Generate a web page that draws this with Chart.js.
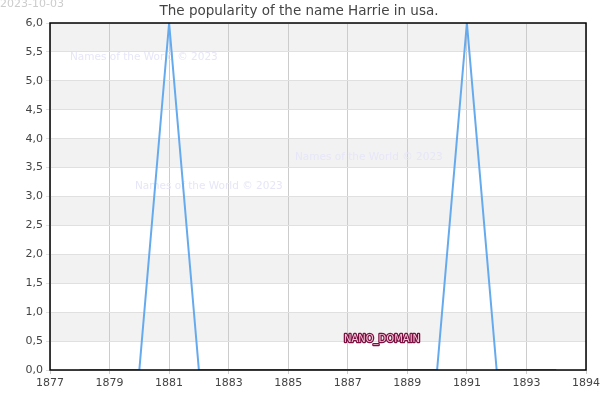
<!DOCTYPE html>
<html>
<head>
<meta charset="utf-8">
<script src="https://cdn.jsdelivr.net/npm/chart.js@4"></script>
<style>
  html, body { margin: 0; padding: 0; background: #fff; }
  #wrap { width: 600px; height: 400px; }
</style>
</head>
<body>
<div id="wrap"><canvas id="popChart"></canvas></div>
<script>
const years = [1878, 1879, 1880, 1881, 1882, 1883, 1884, 1885, 1886, 1887, 1888, 1889, 1890, 1891, 1892, 1893, 1894];
const counts = [0, 0, 0, 6, 0, 0, 0, 0, 0, 0, 0, 0, 0, 6, 0, 0, 0];
const xTicks = [1877, 1879, 1881, 1883, 1885, 1887, 1889, 1891, 1893, 1895];
const xTickLabels = ['1877', '1879', '1881', '1883', '1885', '1887', '1889', '1891', '1893', '1894'];
const titleText = 'The popularity of the name Harrie in usa.';
const dateText = '2023-10-03';

// bands, frame, title and watermarks
const decor = {
    id: 'decor',
    beforeDatasetsDraw(chart) {
        const c = chart.ctx;
        c.save();
        c.font = '10.5px "DejaVu Sans"';
        c.fillStyle = '#e6e6f8';
        c.textBaseline = 'middle';
        c.fillText('Names of the World \u00a9 2023', 70, 57);
        c.fillText('Names of the World \u00a9 2023', 295, 157);
        c.fillText('Names of the World \u00a9 2023', 135, 186);
        c.restore();
    },
    beforeDraw(chart) {
        const c = chart.ctx, a = chart.chartArea, y = chart.scales.y;
        c.save();
        c.fillStyle = '#f2f2f2';
        for (let v = 0.5; v < 6; v += 1) {
            const top = y.getPixelForValue(v + 0.5), bot = y.getPixelForValue(v);
            c.fillRect(a.left, top, a.right - a.left, bot - top);
        }
        c.restore();
    },
    afterDraw(chart) {
        const c = chart.ctx, a = chart.chartArea;
        c.save();
        c.strokeStyle = '#000';
        c.lineWidth = 1.5;
        c.strokeRect(a.left, a.top, a.right - a.left, a.bottom - a.top);
        c.font = '13.5px "DejaVu Sans"';
        c.fillStyle = '#444';
        c.textAlign = 'center';
        c.textBaseline = 'middle';
        c.fillText(titleText, 299, 11);
        c.font = '11px "DejaVu Sans"';
        c.fillStyle = '#cccccc';
        c.textAlign = 'left';
        c.fillText(dateText, 0, 4);
        c.font = '10px "DejaVu Sans"';
        c.lineWidth = 2.5;
        c.strokeStyle = '#7a1040';
        c.lineJoin = 'round';
        c.textAlign = 'center';
        c.strokeText('NANO_DOMAIN', 382, 339);
        c.fillStyle = '#f4c6d8';
        c.fillText('NANO_DOMAIN', 382, 339);
        c.restore();
    }
};

const ctx = document.getElementById('popChart').getContext('2d');
const popChart = new Chart(ctx, {
    type: 'line',
    data: {
        labels: years,
        datasets: [{
            data: years.map((yr, i) => ({ x: yr, y: counts[i] })),
            borderColor: '#66aaee',
            borderWidth: 2,
            pointRadius: 0,
            fill: false,
            tension: 0
        }]
    },
    options: {
        responsive: true,
        maintainAspectRatio: false,
        animation: false,
        layout: { padding: { top: 23, right: 14, left: 0, bottom: 0 } },
        plugins: { legend: { display: false }, title: { display: false }, tooltip: { enabled: false } },
        scales: {
            x: {
                type: 'linear',
                min: xTicks[0],
                max: xTicks[xTicks.length - 1],
                afterBuildTicks: s => { s.ticks = xTicks.map(v => ({ value: v })); },
                afterFit: s => { s.height = 30; s.paddingRight = 0; s.paddingLeft = 0; },
                grid: { color: '#cccccc', tickLength: 4 },
                border: { display: false },
                ticks: {
                    color: '#444',
                    font: { family: 'DejaVu Sans', size: 11 },
                    maxRotation: 0,
                    autoSkip: false,
                    callback: (v, i) => xTickLabels[i]
                }
            },
            y: {
                min: 0,
                max: 6,
                afterFit: s => { s.width = 50; },
                grid: { color: '#e0e0e0', tickLength: 4 },
                border: { display: false },
                ticks: {
                    stepSize: 0.5,
                    color: '#444',
                    font: { family: 'DejaVu Sans', size: 11 },
                    callback: v => v.toFixed(1).replace('.', ',')
                }
            }
        }
    },
    plugins: [decor]
});
</script>
</body>
</html>
